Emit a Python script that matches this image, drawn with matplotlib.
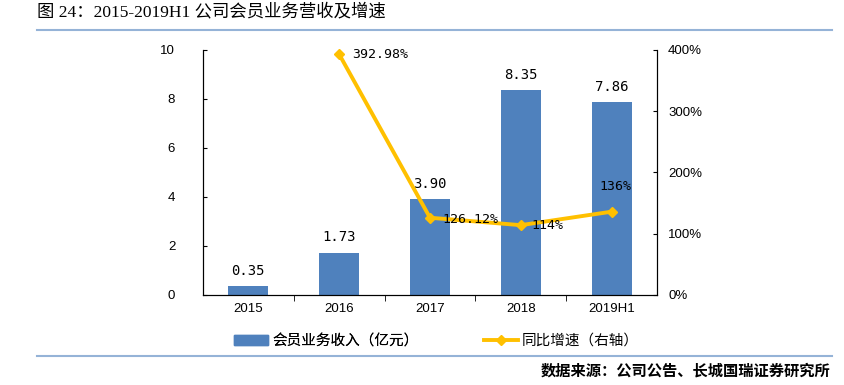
import matplotlib.pyplot as plt
from matplotlib.lines import Line2D
from matplotlib.patches import Patch

plt.rcParams['font.family'] = ['Noto Sans CJK SC', 'DejaVu Sans']

years = ['2015', '2016', '2017', '2018', '2019H1']
revenue = [0.35, 1.73, 3.90, 8.35, 7.86]
rev_labels = ['0.35', '1.73', '3.90', '8.35', '7.86']
growth = [None, 392.98, 126.12, 114, 136]
growth_labels = ['', '392.98%', '126.12%', '114%', '136%']

bar_color = '#4F81BD'
line_color = '#FFC000'

fig = plt.figure(figsize=(8.45, 3.85), dpi=100)
ax = fig.add_axes([0.2402, 0.2338, 0.5373, 0.6364])
x = list(range(len(years)))
ax.bar(x, revenue, width=0.44, color=bar_color, zorder=2)
ax.set_xlim(-0.5, len(years) - 0.5)
ax.set_ylim(0, 10)
ax.set_yticks([0, 2, 4, 6, 8, 10])
ax.set_xticks(x)
ax.set_xticklabels(years, fontsize=9.5)
ax.tick_params(axis='x', length=0, pad=6)
ax.set_xticks([i + 0.5 for i in x[:-1]], minor=True)
ax.tick_params(axis='x', which='minor', length=4, direction='out')
ax.tick_params(axis='y', direction='in', length=3, labelsize=9.5, pad=20)
for lbl in ax.get_yticklabels():
    lbl.set_fontfamily('Liberation Sans')
for lbl in ax.get_xticklabels():
    lbl.set_fontfamily('Liberation Sans')
ax.spines['top'].set_visible(False)
for s in ['left', 'bottom', 'right']:
    ax.spines[s].set_linewidth(0.8)

for xi, v, t in zip(x, revenue, rev_labels):
    ax.annotate(t, (xi, v), xytext=(0, 6), textcoords='offset points',
                ha='center', va='bottom', fontsize=10, family='DejaVu Sans Mono')

ax2 = ax.twinx()
ax2.set_ylim(0, 400)
ax2.set_yticks([0, 100, 200, 300, 400])
ax2.set_yticklabels(['0%', '100%', '200%', '300%', '400%'], fontfamily='Liberation Sans')
ax2.tick_params(axis='y', direction='in', length=3, labelsize=9.5, pad=8)
ax2.spines['top'].set_visible(False)
gx = [xi for xi, g in zip(x, growth) if g is not None]
gy = [g for g in growth if g is not None]
ax2.plot(gx, gy, color=line_color, lw=2.8, marker='D', ms=5, zorder=3, clip_on=False)

offsets = {1: (9, 0, 'left', 'center'), 2: (9, -1, 'left', 'center'),
           3: (8, 0, 'left', 'center'), 4: (3, 18, 'center', 'center')}
for i, t in enumerate(growth_labels):
    if not t:
        continue
    dx, dy, ha, va = offsets[i]
    ax2.annotate(t, (i, growth[i]), xytext=(dx, dy), textcoords='offset points',
                 ha=ha, va=va, fontsize=9.5, family='DejaVu Sans Mono')

leg1 = fig.legend([Patch(color=bar_color)], ['会员业务收入（亿元）'],
                  loc='center left', bbox_to_anchor=(0.277, 0.115), frameon=False,
                  fontsize=10.5, handlelength=2.3, handletextpad=0.3,
                  borderpad=0, borderaxespad=0)
fig.legend([Line2D([], [], color=line_color, lw=2.8, marker='D', ms=5)],
           ['同比增速（右轴）'],
           loc='center left', bbox_to_anchor=(0.573, 0.115), frameon=False,
           fontsize=10.5, handlelength=2.3, handletextpad=0.3,
           borderpad=0, borderaxespad=0)
fig.add_artist(leg1)

fig.text(0.044, 0.968, '图 24：2015-2019H1 公司会员业务营收及增速', fontsize=12.5,
         ha='left', va='center', family=['Liberation Serif', 'Noto Sans CJK SC'])
fig.add_artist(Line2D([0.044, 0.985], [0.922, 0.922], color='#95B3D7', lw=1.5))
fig.add_artist(Line2D([0.044, 0.985], [0.075, 0.075], color='#95B3D7', lw=1.5))
fig.text(0.983, 0.038, '数据来源：公司公告、长城国瑞证券研究所', fontsize=11,
         ha='right', va='center', style='italic', fontweight='bold')

fig.savefig('out.png', dpi=100)
